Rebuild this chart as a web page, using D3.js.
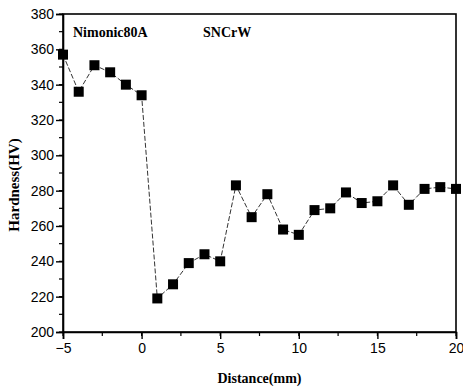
<!DOCTYPE html>
<html><head><meta charset="utf-8">
<script src="https://cdn.jsdelivr.net/npm/d3@7"></script>
<style>body{margin:0;background:#fff}svg{display:block}</style>
</head><body>
<svg id="c" width="463" height="388"></svg>
<script>
const distance = [-5,-4,-3,-2,-1,0,1,2,3,4,5,6,7,8,9,10,11,12,13,14,15,16,17,18,19,20];
const hardness = [357,336,351,347,340,334,219,227,239,244,240,283,265,278,258,255,269,270,279,273,274,283,272,281,282,281];
const xTicks = [-5,0,5,10,15,20];
const yTicks = [200,220,240,260,280,300,320,340,360,380];
const annotations = ["Nimonic80A","SNCrW"];
const xLabel = "Distance(mm)", yLabel = "Hardness(HV)";

const svg = d3.select("#c");
const L=63,R=456,T=14,B=332;
const x = d3.scaleLinear().domain([-5,20]).range([L,R]);
const y = d3.scaleLinear().domain([200,380]).range([B,T]);

// minor ticks
const g = svg.append("g");
g.selectAll(".mx").data(d3.range(-5,20.01,2.5)).join("line")
 .attr("x1",d=>x(d)).attr("x2",d=>x(d)).attr("y1",B).attr("y2",B+4)
 .attr("stroke","#000").attr("stroke-width",1.2);
g.selectAll(".my").data(d3.range(200,380.01,10)).join("line")
 .attr("y1",d=>y(d)).attr("y2",d=>y(d)).attr("x1",L).attr("x2",L-4)
 .attr("stroke","#000").attr("stroke-width",1.2);

const xa = svg.append("g").attr("transform",`translate(0,${B})`)
 .call(d3.axisBottom(x).tickValues(xTicks).tickSize(7).tickPadding(4).tickFormat(d3.format("d")));
const ya = svg.append("g").attr("transform",`translate(${L},0)`)
 .call(d3.axisLeft(y).tickValues(yTicks).tickSize(7).tickPadding(2).tickFormat(d3.format("d")));
[xa,ya].forEach(a=>{
  a.select(".domain").attr("stroke","#000").attr("stroke-width",1.6);
  a.selectAll(".tick line").attr("stroke","#000").attr("stroke-width",1.4);
  a.selectAll("text").attr("font-family","Liberation Sans, Arial, sans-serif").attr("font-size",14).attr("fill","#000");
});
// box
svg.append("rect").attr("x",L).attr("y",T).attr("width",R-L).attr("height",B-T)
 .attr("fill","none").attr("stroke","#000").attr("stroke-width",1.6);

// line
const pts = distance.map((d,i)=>[d,hardness[i]]);
svg.append("path").datum(pts)
 .attr("d",d3.line().x(d=>x(d[0])).y(d=>y(d[1])))
 .attr("fill","none").attr("stroke","#333").attr("stroke-width",1)
 .attr("stroke-dasharray","5,2");

// markers
svg.selectAll(".pt").data(pts).join("rect")
 .attr("x",d=>x(d[0])-5).attr("y",d=>y(d[1])-5).attr("width",10).attr("height",10)
 .attr("fill","#000");

// annotations
const serif="Liberation Serif, Times New Roman, serif";
svg.append("text").attr("x",73).attr("y",37).text(annotations[0])
 .attr("font-family",serif).attr("font-weight","bold").attr("font-size",14);
svg.append("text").attr("x",203).attr("y",37).text(annotations[1])
 .attr("font-family",serif).attr("font-weight","bold").attr("font-size",14);

svg.append("text").attr("x",x(7.5)).attr("y",383).attr("text-anchor","middle").text(xLabel)
 .attr("font-family",serif).attr("font-weight","bold").attr("font-size",14);
svg.append("text").attr("transform",`translate(19,185) rotate(-90)`).attr("text-anchor","middle").text(yLabel)
 .attr("font-family",serif).attr("font-weight","bold").attr("font-size",15);
</script>
</body></html>
